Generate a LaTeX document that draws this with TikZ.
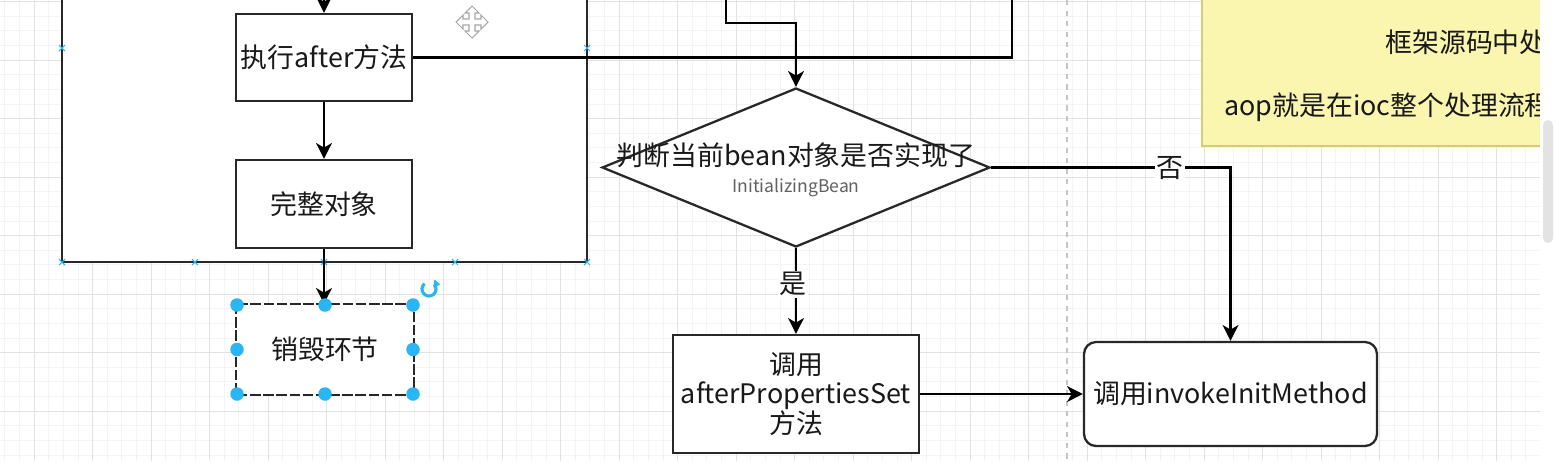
\documentclass[tikz,border=0pt]{standalone}
\usepackage{fontspec}
\setmainfont{Noto Sans CJK SC}
\usetikzlibrary{arrows.meta,shapes.geometric}
\definecolor{gridmaj}{RGB}{226,226,226}
\definecolor{gridmin}{RGB}{244,244,244}
\definecolor{selblue}{RGB}{41,182,242}
\definecolor{notefill}{RGB}{250,246,175}
\definecolor{notedraw}{RGB}{212,204,120}
\definecolor{boxline}{RGB}{40,40,40}
\definecolor{txt}{RGB}{25,25,25}
\newcommand\mainfs{\fontsize{15.3pt}{16.8pt}\selectfont}
\newcommand\smallfs{\fontsize{10pt}{11.5pt}\selectfont}
\tikzset{
  flowbox/.style={draw=boxline, line width=1.3pt, fill=white, inner sep=0pt,
    align=center, font=\mainfs, text=txt},
  conn/.style={draw=black, line width=1.35pt,
    -{Stealth[length=9pt,width=9pt,inset=2.6pt]}},
  plainconn/.style={draw=black, line width=1.35pt},
  edgelabel/.style={fill=white, inner sep=1pt, font=\mainfs, text=txt},
  handle/.style={circle, fill=selblue, inner sep=0pt, minimum size=0.27cm},
  anchorx/.style={draw=selblue, line width=0.6pt},
}
\begin{document}
\begin{tikzpicture}[x=0.02cm,y=-0.02cm]
\useasboundingbox (0,0) rectangle (1555,461);
\begin{scope}
\clip (0,0) rectangle (1540,461);
\fill[white] (0,0) rectangle (1540,461);
% grid
\foreach \i in {-3,...,106} {\draw[gridmin, line width=0.4pt] (34+14.625*\i,0) -- (34+14.625*\i,461);}
\foreach \i in {0,...,32} {\draw[gridmin, line width=0.4pt] (0,1.5+14.625*\i) -- (1540,1.5+14.625*\i);}
\foreach \i in {-1,...,27} {\draw[gridmaj, line width=0.5pt] (34+58.5*\i,0) -- (34+58.5*\i,461);}
\foreach \i in {0,...,8} {\draw[gridmaj, line width=0.5pt] (0,1.5+58.5*\i) -- (1540,1.5+58.5*\i);}
% page break line
\draw[gray!45, line width=0.6pt, dash pattern=on 3pt off 3pt] (1067,0) -- (1067,461);
% container
\draw[boxline, line width=1.3pt, fill=white] (62,-20) rectangle (587,262);
\foreach \p in {(62,48),(62,262),(195,262),(324,262),(455,262),(587,262),(587,48)}
  {\draw[anchorx] \p ++(-3,-3) -- ++(6,6) \p ++(-3,3) -- ++(6,-6);}
% note
\draw[notedraw, line width=0.8pt, fill=notefill] (1202,-10) rectangle (1600,146);
\node[anchor=west, inner sep=0pt, font=\mainfs, text=txt] (note1) at (1385,42) {框架源码中处};
\node[anchor=west, inner sep=0pt, font=\mainfs, text=txt] (note2) at (1224,107) {aop就是在ioc整个处理流程};
% nodes
\node[flowbox, minimum width=3.52cm, minimum height=1.74cm] (after) at (324,57.5) {执行after方法};
\node[flowbox, minimum width=3.52cm, minimum height=1.76cm] (whole) at (324,204) {完整对象};
\node[flowbox, draw=none, minimum width=3.52cm, minimum height=1.78cm] (destroy) at (325,349.5) {销毁环节};
\draw[boxline, line width=1.3pt, dash pattern=on 6pt off 1.5pt] (destroy.north west) rectangle (destroy.south east);
\node[diamond, draw=boxline, line width=1.3pt, fill=white, inner sep=0pt,
  minimum width=7.76cm, minimum height=3.18cm] (judge) at (796,167.5) {};
\node[font=\mainfs, text=txt, inner sep=0pt] (judget) at (796,155) {判断当前bean对象是否实现了};
\node[font=\smallfs, text=black!62, inner sep=0pt] (judges) at (796,188) {InitializingBean};
\node[flowbox, minimum width=4.92cm, minimum height=2.36cm] (aps) at (796,394)
  {调用\\afterPropertiesSet\\方法};
\node[flowbox, rounded corners=0.24cm, minimum width=5.86cm, minimum height=2.08cm] (invoke) at (1230.5,394) {调用invokeInitMethod};
% helper coordinates
\coordinate (topin) at (324,-20);
\coordinate (upa) at (1012,57.5);
\coordinate (upb) at (1012,-20);
\coordinate (srca) at (726,-20);
\coordinate (srcb) at (726,23);
\coordinate (srcc) at (796,23);
\coordinate (noturn) at (1230.5,167.5);
% connectors
\draw[conn] (topin) -- (after.north);
\draw[conn] (after.south) -- (whole.north);
\draw[conn] (whole.south) -- (whole.south |- destroy.north);
\draw[plainconn] (after.east) -- (upa) -- (upb);
\draw[conn] (srca) -- (srcb) -- (srcc) -- (judge.north);
\draw[conn] (judge.south) -- node[edgelabel, pos=0.42, xshift=-0.06cm] (yes) {是} (aps.north);
\draw[conn] (aps.east) -- (invoke.west);
\draw[conn] (judge.east) -- (noturn) -- (invoke.north);
\node[edgelabel] (no) at (1170,168) {否};
% selection handles
\foreach \p in {(237,305),(325,305),(413,305),(237,349.5),(413,349.5),(237,394),(325,394),(413,394)}
  {\node[handle] at \p {};}
% rotate icon
\draw[selblue, line width=1.8pt] (429,289) ++(40:0.14cm) arc[start angle=40, end angle=-230, radius=0.14cm];
\fill[selblue] (429,289) ++(40:0.14cm) ++(0,-5) -- ++(6,5) -- ++(-7,3) -- cycle;
% move cursor
\draw[gray!70, line width=0.6pt, fill=white, line join=miter] (472,22) ++(0,-16)
  -- ++(7,7) -- ++(-4,0) -- ++(0,6) -- ++(6,0) -- ++(0,-4) -- ++(7,7) -- ++(-7,7) -- ++(0,-4)
  -- ++(-6,0) -- ++(0,6) -- ++(4,0) -- ++(-7,7) -- ++(-7,-7) -- ++(4,0) -- ++(0,-6) -- ++(-6,0)
  -- ++(0,4) -- ++(-7,-7) -- ++(7,-7) -- ++(0,4) -- ++(6,0) -- ++(0,-6) -- ++(-4,0) -- cycle;
\end{scope}
% scrollbar
\fill[white] (1540,0) rectangle (1555,461);
\fill[gray!22, rounded corners=0.1cm] (1543,120) rectangle (1553,243);
\end{tikzpicture}
\end{document}
